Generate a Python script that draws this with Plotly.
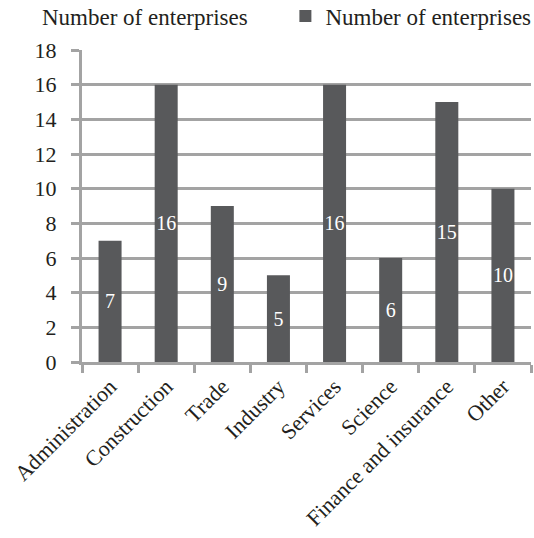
import plotly.graph_objects as go

categories = ["Administration", "Construction", "Trade", "Industry", "Services",
              "Science", "Finance and insurance", "Other"]
enterprises = [7, 16, 9, 5, 16, 6, 15, 10]
y_ticks = [0, 2, 4, 6, 8, 10, 12, 14, 16, 18]

FONT = "Liberation Serif, Times New Roman, serif"
INK = "#231f20"
GRID = "#a3a3a3"
BAR = "#58595b"

fig = go.Figure()
fig.add_trace(go.Bar(
    x=categories,
    y=enterprises,
    name="Number of enterprises",
    marker=dict(color=BAR, line=dict(width=0)),
    text=[str(v) for v in enterprises],
    textposition="inside",
    insidetextanchor="middle",
    textangle=0,
    constraintext="none",
    textfont=dict(family=FONT, size=20, color="white"),
    showlegend=True,
))

fig.update_layout(
    width=534, height=538,
    margin=dict(l=82, r=3, t=50, b=176, autoexpand=False),
    paper_bgcolor="white", plot_bgcolor="white",
    font=dict(family=FONT, size=22, color=INK),
    bargap=0.59,
    showlegend=True,
    legend=dict(
        x=1.012, y=1.04, xanchor="right", yanchor="bottom",
        orientation="h",
        font=dict(family=FONT, size=23, color=INK),
        bgcolor="rgba(0,0,0,0)",
        itemwidth=30,
        tracegroupgap=0,
        borderwidth=0,
    ),
    xaxis=dict(
        showline=True, linecolor=GRID, linewidth=3,
        ticks="outside", tickson="boundaries", ticklen=8, tickwidth=3,
        tickcolor=GRID, tickangle=-45,
        tickfont=dict(family=FONT, size=22, color=INK),
        showgrid=False,
    ),
    yaxis=dict(
        range=[0, 18], tickvals=y_ticks,
        showline=True, linecolor=GRID, linewidth=3,
        ticks="outside", ticklen=8, tickwidth=3, tickcolor=GRID,
        ticklabelstandoff=10,
        showgrid=True, gridcolor=GRID, gridwidth=3,
        zeroline=False,
        tickfont=dict(family=FONT, size=22, color=INK),
    ),
    annotations=[dict(
        text="Number of enterprises", xref="paper", yref="paper",
        x=-0.093, y=1.0, xanchor="left", yanchor="bottom", yshift=18,
        showarrow=False, font=dict(family=FONT, size=23, color=INK),
    )],
)

fig.write_html("out.html")
